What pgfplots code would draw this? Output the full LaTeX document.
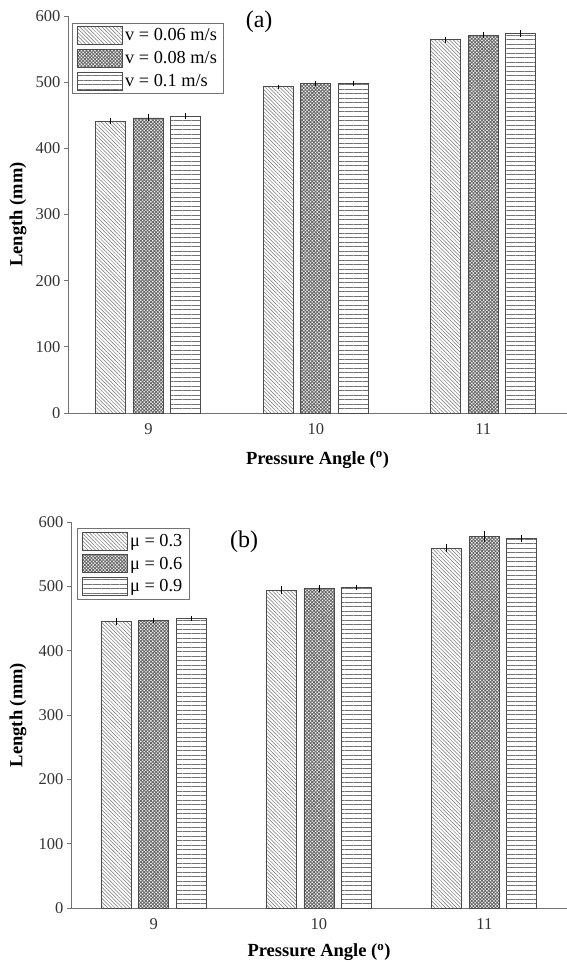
\documentclass[border=0pt]{standalone}
\usepackage{fontspec}
\setmainfont{Liberation Serif}
\usepackage{pgfplots}
\pgfplotsset{compat=1.18}
\usetikzlibrary{patterns.meta}

\pgfplotsset{
  panel/.style={
    scale only axis,
    clip=false,
    ybar=7.5pt,
    bar width=30pt,
    ymin=0, ymax=600,
    ytick={0,100,...,600},
    xtick={0,1,2},
    xticklabels={9,10,11},
    xmax=2.5,
    axis lines*=left,
    axis line style={black!55, line width=0.9pt},
    tick align=outside,
    major tick length=4pt,
    ytick style={black!55, line width=0.9pt},
    xtick style={draw=none},
    tick label style={font=\fontsize{16.5}{19}\selectfont, text=black!80},
    xticklabel style={yshift=-3pt},
    /pgf/number format/assume math mode=true,
    xlabel={\textbf{Pressure Angle (\textsuperscript{o})}},
    ylabel={\textbf{Length (mm)}},
    legend cell align=left,
    legend style={anchor=north west, draw=black!55,
      line width=0.9pt, font=\fontsize{18.3}{21}\selectfont, row sep=4pt,
      inner xsep=5pt, inner ysep=3pt},
    legend image code/.code={\draw[#1] (0pt,-9pt) rectangle (45pt,9pt);},
    error bars/y dir=both, error bars/y explicit,
    error bars/error bar style={black, line width=0.9pt},
    error bars/error mark options={black, line width=0.9pt, mark size=1.5pt},
  },
  ylab/.style={every axis y label/.style={at={(axis description cs:#1,0.5)},
    rotate=90, anchor=center, font=\fontsize{18.5}{22}\selectfont}},
  xlab/.style={every axis x label/.style={at={(axis description cs:0.5,#1)},
    anchor=center, font=\fontsize{18.5}{22}\selectfont}},
  s1/.style={draw=black!70, line width=0.8pt,
    pattern={Lines[angle=-45,distance=2.6pt,line width=0.5pt]}, pattern color=black!55},
  s2/.style={draw=black!70, line width=0.8pt,
    pattern={Hatch[angle=45,distance=2.4pt,line width=0.9pt]}, pattern color=black!60},
  s3/.style={draw=black!70, line width=0.8pt,
    pattern={Lines[angle=0,distance=4.5pt,line width=0.8pt]}, pattern color=black!55},
}

\begin{document}
\begin{tikzpicture}
\path[use as bounding box] (-68pt,16pt) rectangle (499pt,-946pt);

% (a) speed
\begin{axis}[panel, at={(0pt,0pt)}, anchor=north west,
    width=499pt, height=397pt, xmin=-0.48, ylab=-0.1, xlab=-0.118,
    legend style={at={(0.008,0.983)}}]
\addplot[s1] coordinates {(0,441) +- (0,2) (1,493) +- (0,1) (2,564) +- (0,2)};
\addplot[s2] coordinates {(0,446) +- (0,3) (1,498) +- (0,1.5) (2,571) +- (0,2)};
\addplot[s3] coordinates {(0,449) +- (0,2) (1,498) +- (0,2) (2,573) +- (0,3)};
\legend{v = 0.06 m/s, v = 0.08 m/s, v = 0.1 m/s}
\node[font=\fontsize{24}{28}\selectfont] at (rel axis cs:0.383,0.985) {(a)};
\end{axis}

% (b) friction
\begin{axis}[panel, at={(3pt,-506pt)}, anchor=north west,
    width=496pt, height=386pt, xmin=-0.5, ylab=-0.107, xlab=-0.114,
    legend style={at={(0.012,0.984)}}]
\addplot[s1] coordinates {(0,445) +- (0,3) (1,494) +- (0,4) (2,559) +- (0,4)};
\addplot[s2] coordinates {(0,447) +- (0,2) (1,497) +- (0,3) (2,578) +- (0,6)};
\addplot[s3] coordinates {(0,450) +- (0,2) (1,498) +- (0,2) (2,574) +- (0,3)};
\legend{μ = 0.3, μ = 0.6, μ = 0.9}
\node[font=\fontsize{24}{28}\selectfont] at (rel axis cs:0.349,0.948) {(b)};
\end{axis}
\end{tikzpicture}
\end{document}
